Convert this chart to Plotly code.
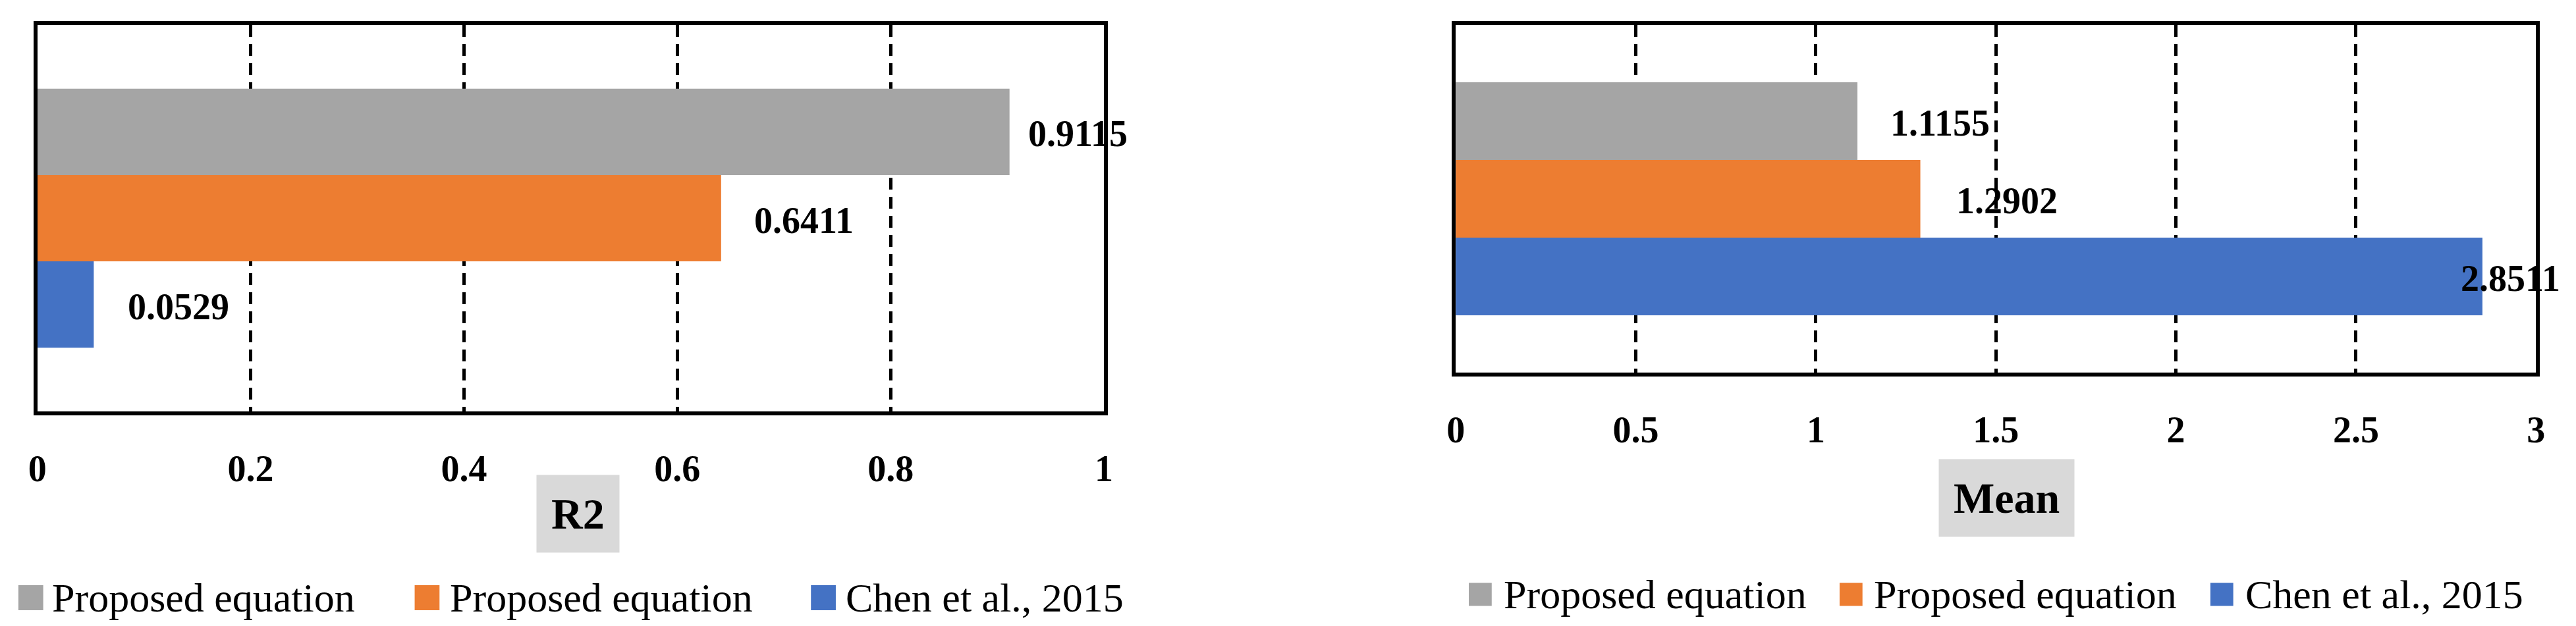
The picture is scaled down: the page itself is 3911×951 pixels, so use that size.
import plotly.graph_objects as go

# ---------------- data ----------------
metrics = ["R2", "Mean"]
series_names = ["Chen et al., 2015", "Proposed equation", "Proposed equation"]
r2_values = [0.0529, 0.6411, 0.9115]
mean_values = [2.8511, 1.2902, 1.1155]
r2_ticks = [0, 0.2, 0.4, 0.6, 0.8, 1]
mean_ticks = [0, 0.5, 1, 1.5, 2, 2.5, 3]
legend_order = [2, 1, 0]   # left-to-right order of legend entries

# ---------------- style ----------------
colors = ["#4472C4", "#ED7D31", "#A5A5A5"]
W, H = 3911, 951
FONT = "Palatino Linotype, Book Antiqua, Palatino, Liberation Serif, serif"
BARGAP = 0.33

# plot areas (pixels: left, right, top, bottom)
areas = [(43, 1674, 38, 625), (2212, 3864, 38, 566)]
label_dx = [[50, 48, 26], [-35, 52, 48]]
title_pos = [(0.507, 780), (0.5097, 756)]
leg_sq_x = [[14, 620, 1226], [2232, 2799, 3366]]
leg_txt_x = [[63, 672, 1277], [2283, 2849, 3417]]
leg_y = [908, 903]
leg_sq = [38, 35]

fig = go.Figure()
values_list = [r2_values, mean_values]
ticks_list = [r2_ticks, mean_ticks]

annotations = []
shapes = []
for s, (metric, vals, ticks) in enumerate(zip(metrics, values_list, ticks_list)):
    xa = "x" if s == 0 else "x2"
    ya = "y" if s == 0 else "y2"
    for k, (name, v) in enumerate(zip(series_names, vals)):
        fig.add_trace(go.Bar(
            x=[v], y=[metric], orientation="h", name=name,
            marker=dict(color=colors[k], line=dict(width=0)),
            xaxis=xa, yaxis=ya, showlegend=False, hoverinfo="x+name",
        ))
    l, r, t, b = areas[s]
    slot = (b - t) * (1 - BARGAP) / 3.0
    for k, v in enumerate(vals):
        annotations.append(dict(
            x=v, y=metric, xref=xa, yref=ya, text="<b>%.4f</b>" % v,
            showarrow=False, xanchor="left", yanchor="middle",
            xshift=label_dx[s][k], yshift=(k - 1) * slot + (-3),
            font=dict(family=FONT, size=56, color="black"),
        ))
    # axis title box
    tx, ty = title_pos[s]
    annotations.append(dict(
        x=tx, y=1 - ty / H, xref=xa + " domain", yref="paper",
        text="<b>%s</b>" % metric, showarrow=False,
        xanchor="center", yanchor="middle",
        bgcolor="#D9D9D9", borderpad=22,
        font=dict(family=FONT, size=66, color="black"),
    ))
    # legend
    for j, k in enumerate(legend_order):
        sx = leg_sq_x[s][j]
        sq = leg_sq[s]
        cy = leg_y[s]
        shapes.append(dict(
            type="rect", xref="paper", yref="paper",
            x0=sx / W, x1=(sx + sq) / W,
            y0=1 - (cy + sq / 2) / H, y1=1 - (cy - sq / 2) / H,
            fillcolor=colors[k], line=dict(width=0),
        ))
        annotations.append(dict(
            x=leg_txt_x[s][j] / W, y=1 - cy / H, xref="paper", yref="paper",
            text=series_names[k], showarrow=False,
            xanchor="left", yanchor="middle",
            font=dict(family=FONT, size=62, color="black"),
        ))

def xaxis_cfg(s):
    l, r, t, b = areas[s]
    ticks = ticks_list[s]
    return dict(
        domain=[l / W, r / W], range=[ticks[0], ticks[-1]],
        anchor="y" if s == 0 else "y2",
        tickmode="array", tickvals=ticks, ticktext=[str(v) for v in ticks],
        tickfont=dict(family=FONT, size=56, color="black", weight="bold"),
        ticks="", ticklabelstandoff=33,
        showgrid=True, gridcolor="black", gridwidth=4.5, griddash="18px,11px",
        zeroline=False,
        showline=True, linecolor="black", linewidth=6, mirror=True,
        fixedrange=True,
    )

def yaxis_cfg(s):
    l, r, t, b = areas[s]
    return dict(
        domain=[1 - b / H, 1 - t / H],
        anchor="x" if s == 0 else "x2",
        type="category", range=[-0.5, 0.5],
        showticklabels=False, ticks="", showgrid=False, zeroline=False,
        showline=True, linecolor="black", linewidth=6, mirror=True,
        fixedrange=True,
    )

fig.update_layout(
    width=W, height=H, autosize=False,
    margin=dict(l=0, r=0, t=0, b=0, pad=0),
    paper_bgcolor="white", plot_bgcolor="white",
    barmode="group", bargap=BARGAP, bargroupgap=0,
    xaxis=xaxis_cfg(0), yaxis=yaxis_cfg(0),
    xaxis2=xaxis_cfg(1), yaxis2=yaxis_cfg(1),
    annotations=annotations, shapes=shapes,
    showlegend=False,
    font=dict(family=FONT, color="black"),
)

fig.write_html(
    "out.html",
    config={"displayModeBar": False, "staticPlot": False},
    post_script="document.body.style.margin='0';document.body.style.overflow='hidden';",
)
